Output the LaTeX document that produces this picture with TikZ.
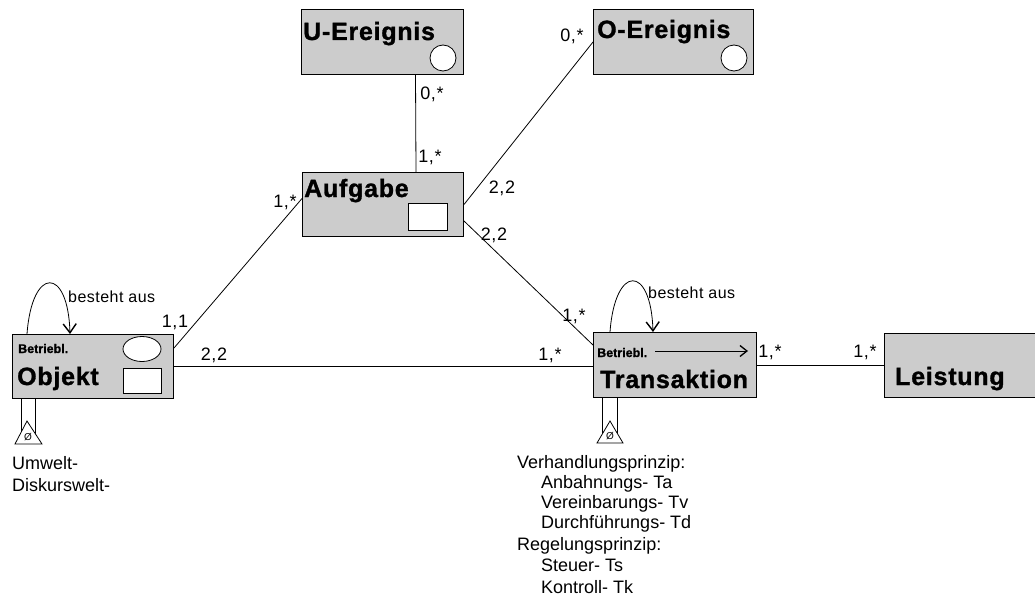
\documentclass[tikz,border=0pt]{standalone}
\usepackage{fontspec}
\setmainfont{Liberation Sans}
\newfontfamily\titlefont[LetterSpace=3,FakeBold=1.2]{Liberation Sans Bold}
\newfontfamily\smalltitlefont[FakeBold=0.8]{Liberation Sans Bold}
\newfontfamily\spacedfont[LetterSpace=3]{Liberation Sans}
\usetikzlibrary{arrows.meta,calc}
\begin{document}
\begin{tikzpicture}[x=1pt,y=-1pt,
 box/.style={draw, line width=1pt, fill=black!20, anchor=north west, inner sep=0pt},
 ttl/.style={font=\fontsize{25}{25}\titlefont, anchor=base west, inner sep=0pt},
 smallttl/.style={font=\fontsize{12.5}{12.5}\smalltitlefont, anchor=base west, inner sep=0pt},
 card/.style={font=\fontsize{18}{18}\spacedfont, anchor=base, inner sep=0pt},
 txt/.style={font=\fontsize{18}{18}\selectfont, anchor=base west, inner sep=0pt},
 loopl/.style={font=\fontsize{16}{16}\spacedfont, anchor=base west, inner sep=0pt},
 conn/.style={line width=0.8pt},
 barb/.style={-{Straight Barb[length=9pt,width=13pt,line width=1.4pt]}},
 sbarb/.style={-{Straight Barb[length=7pt,width=11pt,line width=1.3pt]}},
 hole/.style={draw, fill=white, line width=0.8pt},
 emptyset/.style={font=\fontsize{10}{10}\selectfont, inner sep=0pt}
]
\useasboundingbox (0,0) rectangle (1035,599);
\begin{scope}
\clip (0,0) rectangle (1035,599);
% boxes
\node[box, minimum width=162pt, minimum height=65pt] (ue) at (301,9) {};
\node[box, minimum width=160pt, minimum height=65pt] (oe) at (593,9) {};
\node[box, minimum width=161pt, minimum height=64pt] (auf) at (302,172) {};
\node[box, minimum width=161pt, minimum height=64pt] (obj) at (12,334) {};
\node[box, minimum width=163pt, minimum height=65pt] (ta) at (593,332) {};
\node[box, minimum width=165pt, minimum height=64pt] (le) at (884,333) {};
\end{scope}

% titles
\node[ttl] (uet) at (303,40) {U-Ereignis};
\node[ttl] (oet) at (597,38) {O-Ereignis};
\node[ttl] (auft) at (304,197) {Aufgabe};
\node[ttl] (objt) at (17,385) {Objekt};
\node[ttl] (tat) at (600,388) {Transaktion};
\node[ttl] (let) at (895,385) {Leistung};
\node[smallttl] (objb) at (18,353) {Betriebl.};
\node[smallttl] (tab) at (597,357) {Betriebl.};

% inner symbols
\draw[hole] (443,58) circle [radius=13];
\draw[hole] (734,58) circle [radius=13];
\draw[hole] (408,203) rectangle (447,230);
\draw[hole] (142,349) ellipse [x radius=19, y radius=12.5];
\draw[hole] (123,368) rectangle (161,393);
\draw[conn, sbarb] (655,351) -- (748,351);

% connectors
\draw[conn] ([xshift=33pt]ue.south) -- ([xshift=33pt]auf.north);
\draw[conn] (auf.east) -- (oe.west);
\draw[conn] ([yshift=16pt]auf.south east) -- ([yshift=-13pt]ta.north west);
\draw[conn] ([yshift=6pt]auf.west) -- ([yshift=-14pt]obj.north east);
\draw[conn] (obj.east) -- (obj.east -| ta.west);
\draw[conn] (ta.east) -- (ta.east -| le.west);

% self loops
\draw[conn, barb] ([xshift=15pt]obj.north west) .. controls +(5,-68) and +(-2,-68) .. ([xshift=58pt]obj.north west);
\draw[conn, barb] ([xshift=17pt]ta.north west) .. controls +(5,-68) and +(-2,-68) .. ([xshift=60pt]ta.north west);
\node[loopl] (objl) at (68,302) {besteht aus};
\node[loopl] (tal) at (648,298) {besteht aus};

% cardinalities
\node[card] (c1) at (432,100) {0,*};
\node[card] (c2) at (430,162) {1,*};
\node[card] (c3) at (572,42) {0,*};
\node[card] (c4) at (502,193) {2,2};
\node[card] (c5) at (494,240) {2,2};
\node[card] (c6) at (285,207) {1,*};
\node[card] (c7) at (175,327) {1,1};
\node[card] (c8) at (214,360) {2,2};
\node[card] (c9) at (550,360) {1,*};
\node[card] (c10) at (574,321) {1,*};
\node[card] (c11) at (770,357) {1,*};
\node[card] (c12) at (865,357) {1,*};

% generalisation triangles
\draw[conn] (21,398) -- (21,434);
\draw[conn] (35,398) -- (35,434);
\draw[conn, fill=white] (27,421) -- (15,444) -- (42,444) -- cycle;
\node[emptyset] (objs) at (28,437) {Ø};
\draw[conn] (602,397) -- (602,435);
\draw[conn] (617,397) -- (617,435);
\draw[conn, fill=white] (610,421) -- (597,443) -- (623,443) -- cycle;
\node[emptyset] (tas) at (610,436) {Ø};

% texts
\node[txt] (u1) at (12,469) {Umwelt-};
\node[txt] (u2) at (12,491) {Diskurswelt-};
\node[txt] (v1) at (517,468) {Verhandlungsprinzip:};
\node[txt] (v2) at (541,488) {Anbahnungs- Ta};
\node[txt] (v3) at (541,508) {Vereinbarungs- Tv};
\node[txt] (v4) at (541,528) {Durchführungs- Td};
\node[txt] (v5) at (517,550) {Regelungsprinzip:};
\node[txt] (v6) at (541,571) {Steuer- Ts};
\node[txt] (v7) at (541,593) {Kontroll- Tk};
\end{tikzpicture}
\end{document}
